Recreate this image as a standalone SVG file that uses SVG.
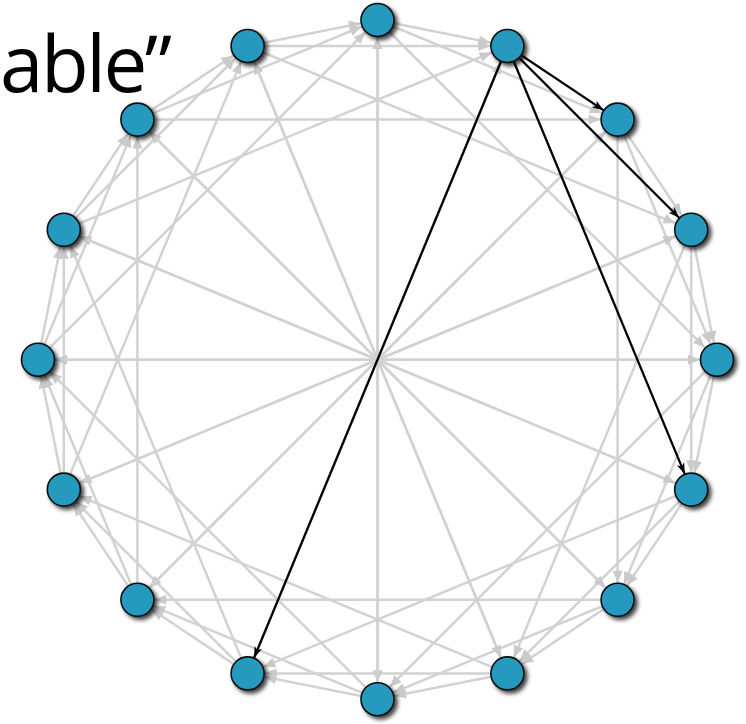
<svg xmlns="http://www.w3.org/2000/svg" width="746" height="724" viewBox="0 0 746 724">
<style>
.e{stroke:#d2d2d2;stroke-width:2.5;fill:none;marker-end:url(#ag)}
.h{stroke:#000;stroke-width:2.3;fill:none;marker-end:url(#ab)}
.n{fill:#2699bf;stroke:#111;stroke-width:1.6;filter:url(#sh)}
.t{font-family:"Open Sans","DejaVu Sans",sans-serif;font-size:78px;fill:#000}
</style>
<defs>
<marker id="ag" markerUnits="userSpaceOnUse" markerWidth="32" markerHeight="12" refX="29" refY="5" orient="auto" overflow="visible"><path d="M0,0 L12,5 L0,10 z" fill="#cacaca"/></marker>
<marker id="ab" markerUnits="userSpaceOnUse" markerWidth="32" markerHeight="12" refX="28" refY="4" orient="auto" overflow="visible"><path d="M0,0 L11,4 L0,8 L3,4 z" fill="#000"/></marker>
<filter id="sh" x="-50%" y="-50%" width="200%" height="200%"><feDropShadow dx="3" dy="3" stdDeviation="2" flood-color="#000" flood-opacity="0.75"/></filter>
</defs>
<text class="t" x="0" y="92" textLength="172">able”</text>
<g id="connectors">
<line class="e" x1="377.5" y1="20" x2="507.4" y2="46"/>
<line class="e" x1="617.6" y1="119.6" x2="691.2" y2="229.8"/>
<line class="e" x1="691.2" y1="229.8" x2="717" y2="359.7"/>
<line class="e" x1="717" y1="359.7" x2="691.2" y2="489.6"/>
<line class="e" x1="691.2" y1="489.6" x2="617.6" y2="599.8"/>
<line class="e" x1="617.6" y1="599.8" x2="507.4" y2="673.4"/>
<line class="e" x1="507.4" y1="673.4" x2="377.5" y2="699.2"/>
<line class="e" x1="377.5" y1="699.2" x2="247.6" y2="673.4"/>
<line class="e" x1="247.6" y1="673.4" x2="137.4" y2="599.8"/>
<line class="e" x1="137.4" y1="599.8" x2="63.8" y2="489.6"/>
<line class="e" x1="63.8" y1="489.6" x2="38" y2="359.7"/>
<line class="e" x1="38" y1="359.7" x2="63.8" y2="229.8"/>
<line class="e" x1="63.8" y1="229.8" x2="137.4" y2="119.6"/>
<line class="e" x1="137.4" y1="119.6" x2="247.6" y2="46"/>
<line class="e" x1="247.6" y1="46" x2="377.5" y2="20"/>
<line class="e" x1="377.5" y1="20" x2="617.6" y2="119.6"/>
<line class="e" x1="617.6" y1="119.6" x2="717" y2="359.7"/>
<line class="e" x1="691.2" y1="229.8" x2="691.2" y2="489.6"/>
<line class="e" x1="717" y1="359.7" x2="617.6" y2="599.8"/>
<line class="e" x1="691.2" y1="489.6" x2="507.4" y2="673.4"/>
<line class="e" x1="617.6" y1="599.8" x2="377.5" y2="699.2"/>
<line class="e" x1="507.4" y1="673.4" x2="247.6" y2="673.4"/>
<line class="e" x1="377.5" y1="699.2" x2="137.4" y2="599.8"/>
<line class="e" x1="247.6" y1="673.4" x2="63.8" y2="489.6"/>
<line class="e" x1="137.4" y1="599.8" x2="38" y2="359.7"/>
<line class="e" x1="63.8" y1="489.6" x2="63.8" y2="229.8"/>
<line class="e" x1="38" y1="359.7" x2="137.4" y2="119.6"/>
<line class="e" x1="63.8" y1="229.8" x2="247.6" y2="46"/>
<line class="e" x1="137.4" y1="119.6" x2="377.5" y2="20"/>
<line class="e" x1="247.6" y1="46" x2="507.4" y2="46"/>
<line class="e" x1="377.5" y1="20" x2="717" y2="359.7"/>
<line class="e" x1="617.6" y1="119.6" x2="617.6" y2="599.8"/>
<line class="e" x1="691.2" y1="229.8" x2="507.4" y2="673.4"/>
<line class="e" x1="717" y1="359.7" x2="377.5" y2="699.2"/>
<line class="e" x1="691.2" y1="489.6" x2="247.6" y2="673.4"/>
<line class="e" x1="617.6" y1="599.8" x2="137.4" y2="599.8"/>
<line class="e" x1="507.4" y1="673.4" x2="63.8" y2="489.6"/>
<line class="e" x1="377.5" y1="699.2" x2="38" y2="359.7"/>
<line class="e" x1="247.6" y1="673.4" x2="63.8" y2="229.8"/>
<line class="e" x1="137.4" y1="599.8" x2="137.4" y2="119.6"/>
<line class="e" x1="63.8" y1="489.6" x2="247.6" y2="46"/>
<line class="e" x1="38" y1="359.7" x2="377.5" y2="20"/>
<line class="e" x1="63.8" y1="229.8" x2="507.4" y2="46"/>
<line class="e" x1="137.4" y1="119.6" x2="617.6" y2="119.6"/>
<line class="e" x1="247.6" y1="46" x2="691.2" y2="229.8"/>
<line class="e" x1="377.5" y1="20" x2="377.5" y2="699.2"/>
<line class="e" x1="617.6" y1="119.6" x2="137.4" y2="599.8"/>
<line class="e" x1="691.2" y1="229.8" x2="63.8" y2="489.6"/>
<line class="e" x1="717" y1="359.7" x2="38" y2="359.7"/>
<line class="e" x1="691.2" y1="489.6" x2="63.8" y2="229.8"/>
<line class="e" x1="617.6" y1="599.8" x2="137.4" y2="119.6"/>
<line class="e" x1="507.4" y1="673.4" x2="247.6" y2="46"/>
<line class="e" x1="377.5" y1="699.2" x2="377.5" y2="20"/>
<line class="e" x1="247.6" y1="673.4" x2="507.4" y2="46"/>
<line class="e" x1="137.4" y1="599.8" x2="617.6" y2="119.6"/>
<line class="e" x1="63.8" y1="489.6" x2="691.2" y2="229.8"/>
<line class="e" x1="38" y1="359.7" x2="717" y2="359.7"/>
<line class="e" x1="63.8" y1="229.8" x2="691.2" y2="489.6"/>
<line class="e" x1="137.4" y1="119.6" x2="617.6" y2="599.8"/>
<line class="e" x1="247.6" y1="46" x2="507.4" y2="673.4"/>
<line class="h" x1="507.4" y1="46" x2="617.6" y2="119.6"/>
<line class="h" x1="507.4" y1="46" x2="691.2" y2="229.8"/>
<line class="h" x1="507.4" y1="46" x2="691.2" y2="489.6"/>
<line class="h" x1="507.4" y1="46" x2="247.6" y2="673.4"/>
</g>
<g id="n0"><circle class="n" cx="377.5" cy="20" r="16.5"/></g>
<g id="n1"><circle class="n" cx="507.4" cy="46" r="16.5"/></g>
<g id="n2"><circle class="n" cx="617.6" cy="119.6" r="16.5"/></g>
<g id="n3"><circle class="n" cx="691.2" cy="229.8" r="16.5"/></g>
<g id="n4"><circle class="n" cx="717" cy="359.7" r="16.5"/></g>
<g id="n5"><circle class="n" cx="691.2" cy="489.6" r="16.5"/></g>
<g id="n6"><circle class="n" cx="617.6" cy="599.8" r="16.5"/></g>
<g id="n7"><circle class="n" cx="507.4" cy="673.4" r="16.5"/></g>
<g id="n8"><circle class="n" cx="377.5" cy="699.2" r="16.5"/></g>
<g id="n9"><circle class="n" cx="247.6" cy="673.4" r="16.5"/></g>
<g id="n10"><circle class="n" cx="137.4" cy="599.8" r="16.5"/></g>
<g id="n11"><circle class="n" cx="63.8" cy="489.6" r="16.5"/></g>
<g id="n12"><circle class="n" cx="38" cy="359.7" r="16.5"/></g>
<g id="n13"><circle class="n" cx="63.8" cy="229.8" r="16.5"/></g>
<g id="n14"><circle class="n" cx="137.4" cy="119.6" r="16.5"/></g>
<g id="n15"><circle class="n" cx="247.6" cy="46" r="16.5"/></g>
</svg>
